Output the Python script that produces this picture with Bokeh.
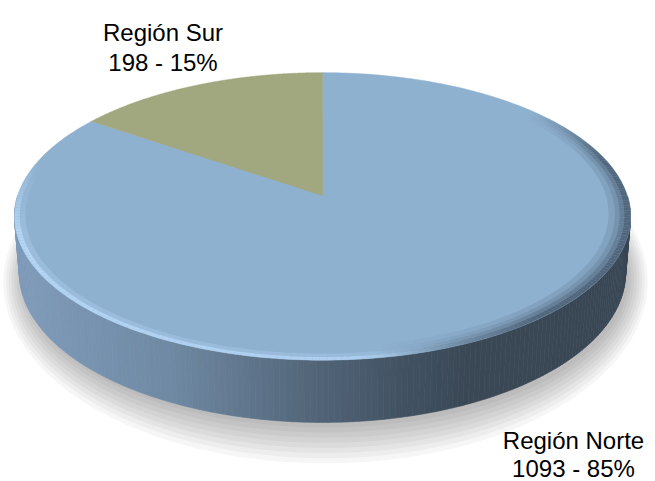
import numpy as np
from bokeh.plotting import figure
from bokeh.models import Range1d
from bokeh.embed import file_html
from bokeh.resources import INLINE
from bokeh.core.properties import value

# ---- data ----
categories = ["Región Norte", "Región Sur"]
values = [1093, 198]
slice_colors = ["#8fb1d0", "#a1a77f"]

total = float(sum(values))
percents = [round(100.0 * v / total) for v in values]
label_line1 = categories
label_line2 = [f"{v} - {pc}%" for v, pc in zip(values, percents)]

# ---- layout ----
W, H = 655, 481
p = figure(width=W, height=H, x_range=Range1d(0, W), y_range=Range1d(H, 0),
           output_backend="svg", toolbar_location=None, min_border=0,
           x_axis_type=None, y_axis_type=None)
p.grid.visible = False
p.outline_line_color = None
p.background_fill_color = "white"
p.border_fill_color = "white"

# perspective camera for the 3D disc
CX, CY = 322.0, 195.0
F, D = 1856.0, 6.09
ALPHA = np.radians(27.5)
T = 0.21


def proj(u, v, h):
    Y = h * np.cos(ALPHA) + v * np.sin(ALPHA)
    Z = -h * np.sin(ALPHA) + v * np.cos(ALPHA) + D
    return CX + F * u / Z, CY - F * Y / Z


def hexc(rgb):
    return "#%02x%02x%02x" % tuple(int(max(0, min(255, round(c)))) for c in rgb)


# ---- soft shadow ----
phi_all = np.radians(np.linspace(0, 360, 241))
bx, by = proj(np.cos(phi_all), np.sin(phi_all), -T)
bcx, bcy = proj(0.0, 0.0, -T)
sh_x, sh_y = [], []
for k in range(8):
    s = 1.0 + 0.009 * k
    sh_x.append(list(bcx + (bx - bcx) * s + 3))
    sh_y.append(list(bcy + (by - bcy) * (1.0 + 0.03 * k) + 5))
p.patches(sh_x[::-1], sh_y[::-1], fill_color="#000000", fill_alpha=0.035, line_color=None)

# ---- side wall (front) with horizontal gradient ----
gx = [13, 170, 300, 400, 470, 640]
gr = [127, 111, 85, 66, 58, 57]
gg = [156, 137, 104, 82, 72, 71]
gb = [187, 163, 124, 99, 86, 85]
phis = np.radians(np.linspace(180, 360, 181))
side_xs, side_ys, side_cols = [], [], []
for a0, a1 in zip(phis[:-1], phis[1:]):
    tx0, ty0 = proj(np.cos(a0), np.sin(a0), 0.0)
    tx1, ty1 = proj(np.cos(a1), np.sin(a1), 0.0)
    bx1, by1 = proj(np.cos(a1), np.sin(a1), -T)
    bx0, by0 = proj(np.cos(a0), np.sin(a0), -T)
    side_xs.append([tx0, tx1, bx1, bx0])
    side_ys.append([ty0, ty1, by1, by0])
    mx = (tx0 + tx1) / 2
    side_cols.append(hexc((np.interp(mx, gx, gr), np.interp(mx, gx, gg), np.interp(mx, gx, gb))))
p.patches(side_xs, side_ys, fill_color=side_cols, line_color=side_cols, line_width=0.6)

# ---- top face slices ----
start = 90.0
ox, oy = proj(0.0, 0.0, 0.0)
for val, col in zip(values, slice_colors):
    end = start - 360.0 * val / total
    ph = np.radians(np.linspace(start, end, 300))
    xs, ys = proj(np.cos(ph), np.sin(ph), 0.0)
    p.patch(np.concatenate([[ox], xs]), np.concatenate([[oy], ys]),
            fill_color=col, line_color=col, line_width=0.5)
    start = end


# ---- bevel on the rim (highlight left, dark right) ----
def ring(r0, r1, a_from, a_to, n, colfun, alpha_fun):
    aa = np.radians(np.linspace(a_from, a_to, n + 1))
    xs_, ys_, cs_, al_ = [], [], [], []
    for i in range(n):
        a0, a1 = aa[i], aa[i + 1]
        x0o, y0o = proj(r1 * np.cos(a0), r1 * np.sin(a0), 0.0)
        x1o, y1o = proj(r1 * np.cos(a1), r1 * np.sin(a1), 0.0)
        x1i, y1i = proj(r0 * np.cos(a1), r0 * np.sin(a1), 0.0)
        x0i, y0i = proj(r0 * np.cos(a0), r0 * np.sin(a0), 0.0)
        xs_.append([x0o, x1o, x1i, x0i])
        ys_.append([y0o, y1o, y1i, y0i])
        mx = (x0o + x1o) / 2
        cs_.append(colfun(mx))
        al_.append(alpha_fun(i / n, mx))
    p.patches(xs_, ys_, fill_color=cs_, fill_alpha=al_, line_color=None)


def light_col(x):
    return hexc((np.interp(x, [13, 350], [184, 176]), np.interp(x, [13, 350], [216, 210]),
                 np.interp(x, [13, 350], [246, 242])))


def dark_col(x):
    return hexc((62, 78, 96))


def taper(f):
    return float(min(1.0, f / 0.12, (1 - f) / 0.12))


def light_alpha(f, x):
    return 0.9 * taper(f) * float(np.clip((470 - x) / 120.0, 0, 1))


def dark_alpha_factory(base):
    def fa(f, x):
        return base * taper(f) * float(np.clip((x - 380) / 160.0, 0, 1))
    return fa


# light highlight on the left/front, right at the edge
ring(0.965, 0.983, 165, 400, 200, light_col, lambda f, x: 0.35 * light_alpha(f, x))
ring(0.983, 1.0, 165, 400, 200, light_col, light_alpha)
# dark blurred rim on the right
ring(0.93, 0.95, 200, 400, 200, dark_col, dark_alpha_factory(0.15))
ring(0.95, 0.965, 200, 400, 200, dark_col, dark_alpha_factory(0.3))
ring(0.965, 0.98, 200, 400, 200, dark_col, dark_alpha_factory(0.5))
ring(0.98, 1.0, 200, 400, 200, dark_col, dark_alpha_factory(0.75))

# ---- labels ----
lab_x = [573, 162.5]
lab_y1 = [440, 32]
lab_y2 = [468, 62]
p.text(x=lab_x, y=lab_y1, text=label_line1, text_font=value("Liberation Sans"),
       text_font_size="24px", text_align="center", text_baseline="alphabetic", text_color="#000000")
p.text(x=lab_x, y=lab_y2, text=label_line2, text_font=value("Liberation Sans"),
       text_font_size="24px", text_align="center", text_baseline="alphabetic", text_color="#000000")

open("out.html", "w").write(file_html(p, INLINE))
